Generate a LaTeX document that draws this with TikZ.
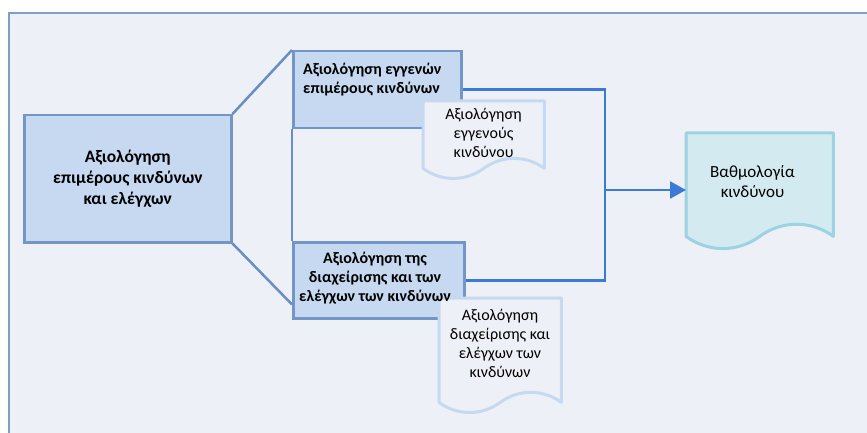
\documentclass[tikz,border=0pt]{standalone}
\usepackage{fontspec}
\setmainfont{Carlito}
\usetikzlibrary{arrows.meta,calc}
\definecolor{bgc}{HTML}{EDF0F7}
\definecolor{framec}{HTML}{7F9FC8}
\definecolor{boxfill}{HTML}{C6D9F1}
\definecolor{boxline}{HTML}{7496C6}
\definecolor{linkc}{HTML}{6A8EC2}
\definecolor{flowc}{HTML}{3C7AD8}
\definecolor{docline}{HTML}{C6D9F1}
\definecolor{outfill}{HTML}{D3EAF1}
\definecolor{outline}{HTML}{9DD2E0}
\newcommand\DocShape[2]{%
  \draw[#2] let \p1=(#1.south west), \p2=(#1.north east), \n1={\x2-\x1} in
    (\x1,\y2) -- (\x2,\y2) -- (\x2,\y1)
    .. controls ({\x2-0.15*\n1},{\y1+0.11*\n1}) and ({\x2-0.35*\n1},{\y1+0.11*\n1}) .. ({\x1+0.5*\n1},\y1)
    .. controls ({\x1+0.35*\n1},{\y1-0.11*\n1}) and ({\x1+0.15*\n1},{\y1-0.11*\n1}) .. (\x1,\y1) -- cycle;}
\begin{document}
\begin{tikzpicture}[x=1pt,y=-1pt,
  box/.style={draw=boxline, fill=boxfill, line width=2.5pt, rectangle, anchor=north west, inner sep=0pt},
  docarea/.style={rectangle, anchor=north west, inner sep=0pt},
  boldtxt/.style={font=\fontsize{16}{19}\selectfont\bfseries, align=center, inner sep=0pt},
  plaintxt/.style={font=\fontsize{16}{19}\selectfont, align=center, inner sep=0pt},
  link/.style={draw=linkc, line width=2.5pt},
  flow/.style={draw=flowc, line width=2.5pt},
  docin/.style={draw=docline, fill=bgc, line width=3pt, line join=round},
  docout/.style={draw=outline, fill=outfill, line width=3pt, line join=round}]
\useasboundingbox (0,0) rectangle (867,433);
\clip (0,0) rectangle (867,433);
\fill[white] (0,0) rectangle (867,433);
\draw[draw=framec, fill=bgc, line width=2pt] (9,13) rectangle (900,470);

% boxes
\node[box, minimum width=207pt, minimum height=127pt,
      font=\fontsize{17.5}{21}\selectfont\bfseries, align=center] (a) at (23,114)
  {Αξιολόγηση\\επιμέρους κινδύνων\\και ελέγχων};
\node[box, minimum width=168pt, minimum height=77pt] (b) at (292,50) {};
\node[box, minimum width=171pt, minimum height=76pt] (c) at (292,241) {};

% connectors from main box
\draw[link] (a.north east) -- (b.north west);
\draw[link] (a.south east) -- ([yshift=15pt]c.south west);
\draw[link] (b.south west) -- (c.north west);

% flow connectors
\coordinate (jx) at (605,190);
\draw[flow] (b.east) -- (b.east -| jx) -- (c.east -| jx) -- (c.east);

% documents
\node[docarea, minimum width=121pt, minimum height=67pt] (d1) at (423,101) {};
\node[docarea, minimum width=122pt, minimum height=104pt] (d2) at (439,298) {};
\node[docarea, minimum width=147pt, minimum height=103pt] (d3) at (686,133) {};
\DocShape{d1}{docin}
\DocShape{d2}{docin}
\DocShape{d3}{docout}

\draw[flow, -{Triangle[length=16pt,width=17pt]}] (jx) -- (jx -| d3.west);

% texts
\node[boldtxt, align=left, anchor=north west] (bt) at (303,63)
  {Αξιολόγηση εγγενών\\επιμέρους κινδύνων};
\node[boldtxt] (ct) at (375,278)
  {Αξιολόγηση της\\διαχείρισης και των\\ελέγχων των κινδύνων};
\node[plaintxt] (d1t) at (483.5,133)
  {Αξιολόγηση\\εγγενούς\\κινδύνου};
\node[plaintxt] (d2t) at (500,343.5)
  {Αξιολόγηση\\διαχείρισης και\\ελέγχων των\\κινδύνων};
\node[plaintxt, font=\fontsize{17}{20}\selectfont] (d3t) at (752.5,181.5)
  {Βαθμολογία\\κινδύνου};
\end{tikzpicture}
\end{document}
